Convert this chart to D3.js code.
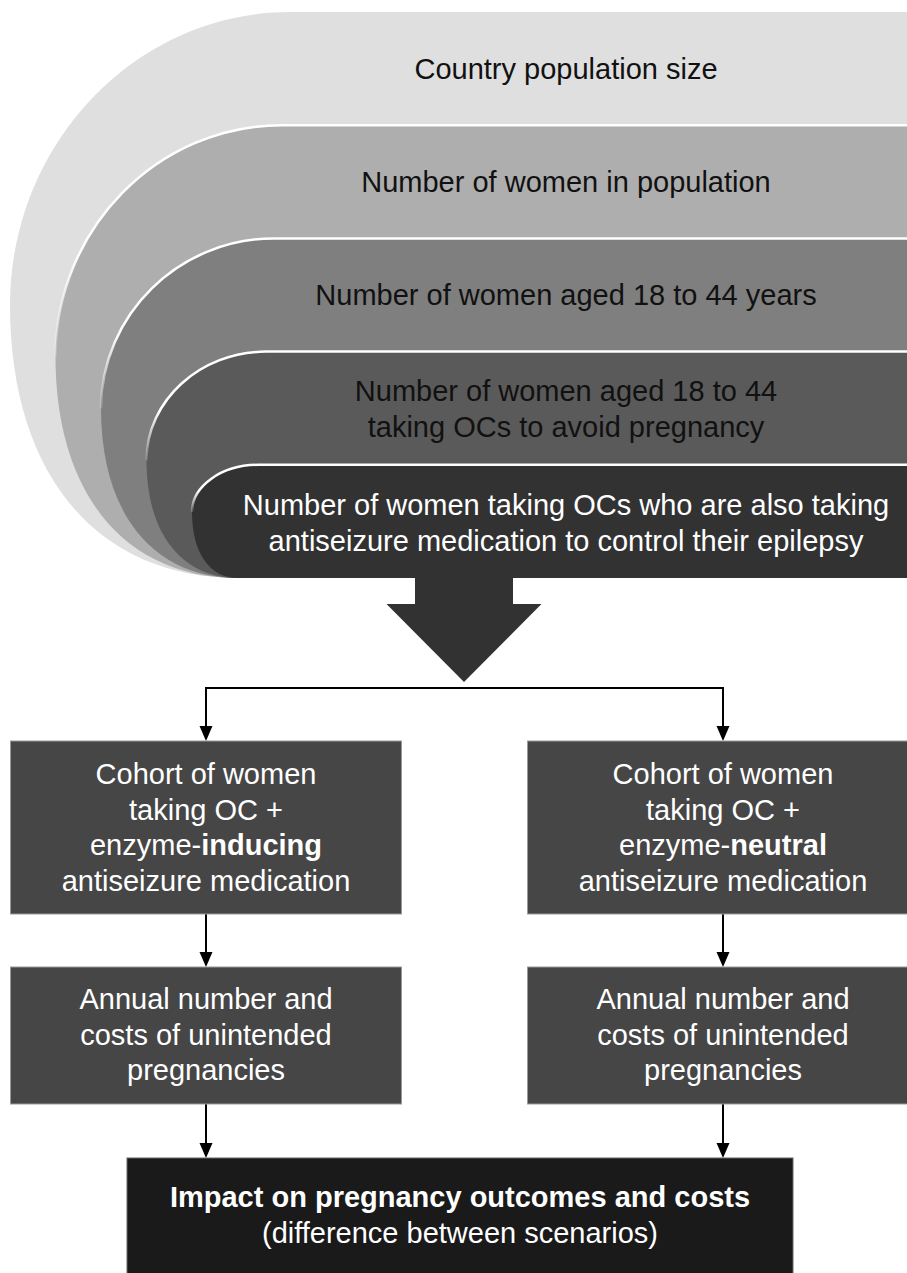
<!DOCTYPE html>
<html>
<head>
<meta charset="utf-8">
<script src="https://cdn.jsdelivr.net/npm/d3@7"></script>
<style>
  html, body { margin: 0; padding: 0; background: #fff; }
  svg { display: block; }
  text { font-family: "Liberation Sans", Arial, sans-serif; font-size: 29px; }
</style>
</head>
<body>
<svg width="907" height="1273"></svg>
<script>
// flow diagram: population funnel -> two cohorts -> outcome

// funnel layers, outermost first
var layerLabels = [
  ["Country population size"],
  ["Number of women in population"],
  ["Number of women aged 18 to 44 years"],
  ["Number of women aged 18 to 44", "taking OCs to avoid pregnancy"],
  ["Number of women taking OCs who are also taking", "antiseizure medication to control their epilepsy"]
];

// the two scenarios (bold part of the third line kept apart)
var scenarios = ["inducing", "neutral"];
var cohortLines = [
  ["Cohort of women"],
  ["taking OC +"],
  ["enzyme-", "{s}"],
  ["antiseizure medication"]
];
var outcomeLines = ["Annual number and", "costs of unintended", "pregnancies"];
var impactLines = ["Impact on pregnancy outcomes and costs", "(difference between scenarios)"];

var svg = d3.select("svg"),
    width = +svg.attr("width"),
    height = +svg.attr("height");

// fading white edge between layers
var grad = svg.append("defs").append("linearGradient")
  .attr("id", "edge").attr("x1", 0).attr("y1", 0).attr("x2", 0).attr("y2", 1);
grad.append("stop").attr("offset", 0).attr("stop-color", "#fff").attr("stop-opacity", 1);
grad.append("stop").attr("offset", 0.55).attr("stop-color", "#fff").attr("stop-opacity", 1);
grad.append("stop").attr("offset", 1).attr("stop-color", "#fff").attr("stop-opacity", 0.15);

// --- funnel ---
var nLayers = layerLabels.length;
var yTop = d3.scaleLinear().domain([0, nLayers]).range([12, 578]);   // layer i top, yTop(n) = common bottom
var xLeft = d3.scaleLinear().domain([0, nLayers - 1]).range([10, 192]);
var yLeft = d3.scaleLinear().domain([0, nLayers - 1]).range([305, 512]);
var xFlat = d3.scaleLinear().domain([0, nLayers - 1]).range([290, 258]);
var shade = ["#dfdfdf", "#aeaeae", "#7f7f7f", "#5a5a5a", "#323232"];
var ink = ["#111", "#111", "#111", "#111", "#fff"];
var bottom = yTop(nLayers), tailX = 238;
var k = 0.55, k2 = 0.62;

function topCurve(i) {
  var t = yTop(i), cx = xFlat(i), lx = xLeft(i), ly = yLeft(i);
  return "M" + (width + 5) + "," + t + "L" + cx + "," + t +
    "C" + (cx - k * (cx - lx)) + "," + t + " " + lx + "," + (ly - k * (ly - t)) + " " + lx + "," + ly;
}

function layerPath(i) {
  var lx = xLeft(i), ly = yLeft(i);
  return topCurve(i) +
    "C" + lx + "," + (ly + k2 * (bottom - ly)) + " " + (tailX - k2 * (tailX - lx)) + "," + bottom + " " + tailX + "," + bottom +
    "L" + (width + 5) + "," + bottom + "Z";
}

var layers = svg.append("g").attr("class", "funnel")
  .selectAll("g")
  .data(layerLabels)
  .enter().append("g");

layers.append("path")
  .attr("d", function (d, i) { return layerPath(i); })
  .attr("fill", function (d, i) { return shade[i]; });

layers.filter(function (d, i) { return i > 0; })
  .append("path")
  .attr("d", function (d, i) { return topCurve(i + 1); })
  .attr("fill", "none")
  .attr("stroke", "url(#edge)")
  .attr("stroke-width", 2.5);

var textX = 566, lineH = 36;
layers.each(function (d, i) {
  var mid = (yTop(i) + yTop(i + 1)) / 2 + (d.length > 1 ? 1 : 0);
  d3.select(this).selectAll("text.lbl")
    .data(d)
    .enter().append("text")
    .attr("class", "lbl")
    .attr("x", textX)
    .attr("y", function (s, j) { return mid + (j - (d.length - 1) / 2) * lineH; })
    .attr("dy", "0.35em")
    .attr("text-anchor", "middle")
    .attr("fill", ink[i])
    .text(function (s) { return s; });
});

// big down arrow
var ax = 464, stemW = 98, headW = 155, headTop = 604, tipY = 682;
svg.append("path")
  .attr("d", "M" + (ax - stemW / 2) + "," + (bottom - 2) + "L" + (ax + stemW / 2) + "," + (bottom - 2) +
    "L" + (ax + stemW / 2) + "," + headTop + "L" + (ax + headW / 2) + "," + headTop +
    "L" + ax + "," + tipY + "L" + (ax - headW / 2) + "," + headTop +
    "L" + (ax - stemW / 2) + "," + headTop + "Z")
  .attr("fill", "#323232");

// --- branches ---
var col = d3.scalePoint().domain(scenarios).range([206, 723]);
var boxW = 391;
var rows = { cohort: [741, 914], outcome: [967, 1104], impact: [1158, 1290] };

function arrowHead(g, x, y) {
  g.append("path")
    .attr("d", "M" + (x - 6.5) + "," + (y - 15) + "L" + (x + 6.5) + "," + (y - 15) + "L" + x + "," + y + "Z")
    .attr("fill", "#000");
}

var lines = svg.append("g").attr("class", "links")
  .attr("stroke", "#000").attr("stroke-width", 2).attr("fill", "none");

var barY = 688;
lines.append("path")
  .attr("d", "M" + col("inducing") + "," + (rows.cohort[0] - 14) + "L" + col("inducing") + "," + barY +
    "L" + col("neutral") + "," + barY + "L" + col("neutral") + "," + (rows.cohort[0] - 14));

scenarios.forEach(function (s) {
  var x = col(s);
  lines.append("line").attr("x1", x).attr("x2", x).attr("y1", rows.cohort[1]).attr("y2", rows.outcome[0] - 14);
  lines.append("line").attr("x1", x).attr("x2", x).attr("y1", rows.outcome[1]).attr("y2", rows.impact[0] - 14);
});

var heads = svg.append("g").attr("class", "heads");
scenarios.forEach(function (s) {
  arrowHead(heads, col(s), rows.cohort[0]);
  arrowHead(heads, col(s), rows.outcome[0]);
  arrowHead(heads, col(s), rows.impact[0]);
});

function boxText(g, x, y0, y1, data, fill) {
  var mid = (y0 + y1) / 2;
  data.forEach(function (parts, j) {
    var t = g.append("text")
      .attr("x", x)
      .attr("y", mid + (j - (data.length - 1) / 2) * 35.5)
      .attr("dy", "0.35em")
      .attr("text-anchor", "middle")
      .attr("fill", fill);
    parts.forEach(function (p) { t.append("tspan").text(p.text).attr("font-weight", p.bold ? "bold" : null); });
  });
}

var boxes = svg.append("g").attr("class", "boxes");
scenarios.forEach(function (s) {
  var x = col(s);
  boxes.append("rect")
    .attr("x", x - boxW / 2).attr("y", rows.cohort[0])
    .attr("width", boxW).attr("height", rows.cohort[1] - rows.cohort[0])
    .attr("fill", "#464646").attr("stroke", "#9a9a9a").attr("stroke-width", 1);
  boxText(boxes, x, rows.cohort[0], rows.cohort[1], cohortLines.map(function (l) {
    return l.map(function (p) { return p === "{s}" ? { text: s, bold: true } : { text: p }; });
  }), "#fff");

  boxes.append("rect")
    .attr("x", x - boxW / 2).attr("y", rows.outcome[0])
    .attr("width", boxW).attr("height", rows.outcome[1] - rows.outcome[0])
    .attr("fill", "#464646").attr("stroke", "#9a9a9a").attr("stroke-width", 1);
  boxText(boxes, x, rows.outcome[0] - 1, rows.outcome[1] - 1, outcomeLines.map(function (l) { return [{ text: l }]; }), "#fff");
});

// final box
var impX = [127, 793];
boxes.append("rect")
  .attr("x", impX[0]).attr("y", rows.impact[0])
  .attr("width", impX[1] - impX[0]).attr("height", rows.impact[1] - rows.impact[0])
  .attr("fill", "#1a1a1a").attr("stroke", "#666").attr("stroke-width", 1);
boxText(boxes, (impX[0] + impX[1]) / 2, rows.impact[0], 1272,
  [[{ text: impactLines[0], bold: true }], [{ text: impactLines[1] }]], "#fff");
</script>
</body>
</html>
